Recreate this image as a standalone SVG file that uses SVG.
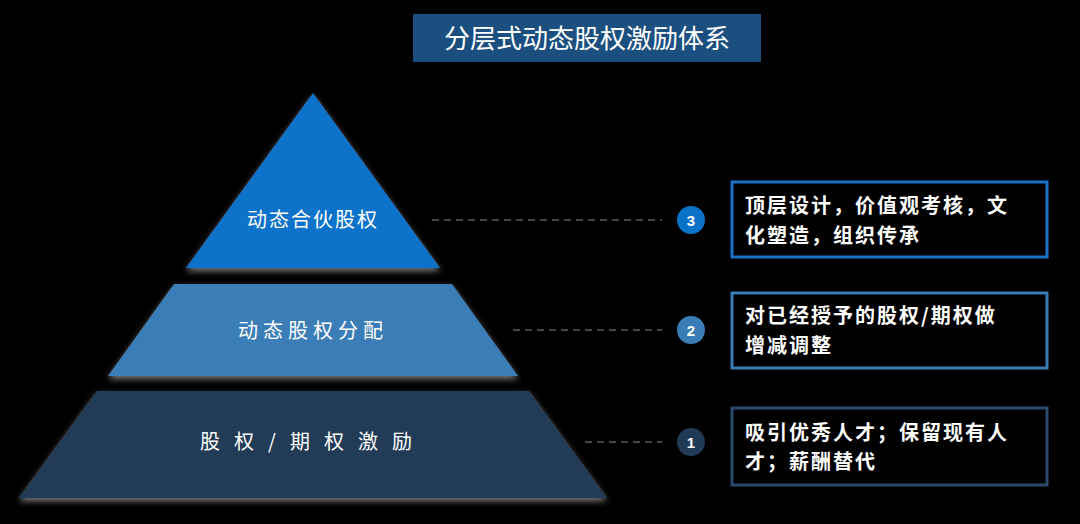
<svg xmlns="http://www.w3.org/2000/svg" width="1080" height="524" viewBox="0 0 1080 524">
<defs>
<style>
text{font-family:"Noto Sans CJK SC","Liberation Sans",sans-serif;fill:#fff}
.lbl{font-size:20px;text-anchor:middle}
.box{fill:#000;stroke-width:3}
.desc{font-size:20px;font-weight:bold;letter-spacing:2px}
.num{font-family:"Liberation Sans",sans-serif;font-size:15px;font-weight:bold;text-anchor:middle}
.dash{stroke:#888;stroke-width:1;stroke-dasharray:7 5}
</style>
<filter id="glow" x="-10%" y="-10%" width="120%" height="130%"><feDropShadow dx="0" dy="3" stdDeviation="3" flood-color="#ccc" flood-opacity="0.6"/></filter>
</defs>
<rect width="1080" height="524" fill="#000"/>
<g id="title"><rect x="413" y="14" width="348" height="48" fill="#1b4f7f"/><text x="587" y="48" font-size="26" text-anchor="middle">分层式动态股权激励体系</text></g>
<g id="level3"><polygon points="313,93 440,268 186,268" fill="#0a72c9" filter="url(#glow)"/><text class="lbl" x="313" y="227" letter-spacing="2">动态合伙股权</text></g>
<g id="level2"><polygon points="174,284 452,284 518,376 108,376" fill="#3a7db6" filter="url(#glow)"/><text class="lbl" x="313" y="338" letter-spacing="5">动态股权分配</text></g>
<g id="level1"><polygon points="97,391 529,391 607,498 19,498" fill="#213a56" filter="url(#glow)"/><text class="lbl" x="313" y="449" letter-spacing="14">股权/期权激励</text></g>
<g id="connectors">
<line class="dash" x1="432" y1="220" x2="662" y2="220"/>
<line class="dash" x1="513" y1="330" x2="662" y2="330"/>
<line class="dash" x1="585" y1="442" x2="662" y2="442"/>
</g>
<g id="badge3"><circle cx="691" cy="220" r="14" fill="#0a72c9"/><text class="num" x="691" y="226">3</text></g>
<g id="badge2"><circle cx="691" cy="330" r="14" fill="#3a7db6"/><text class="num" x="691" y="336">2</text></g>
<g id="badge1"><circle cx="691" cy="442" r="14" fill="#213a56"/><text class="num" x="691" y="448">1</text></g>
<g id="desc3"><rect class="box" x="732" y="182" width="315" height="75" stroke="#1a72c8"/><text class="desc" x="745" y="213">顶层设计，价值观考核，文</text><text class="desc" x="745" y="243">化塑造，组织传承</text></g>
<g id="desc2"><rect class="box" x="732" y="293" width="315" height="75" stroke="#3a7db6"/><text class="desc" x="745" y="323">对已经授予的股权/期权做</text><text class="desc" x="745" y="353">增减调整</text></g>
<g id="desc1"><rect class="box" x="732" y="408" width="315" height="77" stroke="#2b4a6b"/><text class="desc" x="745" y="440">吸引优秀人才；保留现有人</text><text class="desc" x="745" y="469">才；薪酬替代</text></g>
</svg>
